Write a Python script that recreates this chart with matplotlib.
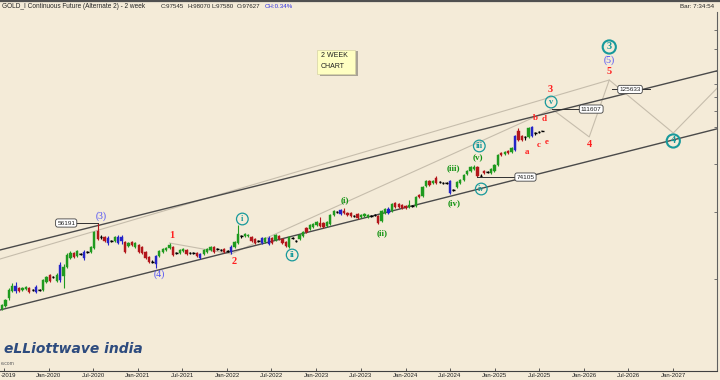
import matplotlib
matplotlib.use("Agg")
import matplotlib.pyplot as plt
import matplotlib.dates as mdates
from matplotlib.patches import Rectangle
from matplotlib.lines import Line2D
import numpy as np
import pandas as pd

# ---- 2 week bars, GOLD_I continuous future (INR) ----
opens = [33470, 34080, 35760, 37300, 38450, 37990, 37530, 37760, 37990, 37530,
         37080, 37530, 37530, 39380, 41080, 40590, 39620, 39860, 40830, 43110,
         45500, 46910, 46060, 46620, 47190, 47190, 47190, 48340, 53550, 51650,
         51650, 49810, 50410, 50410, 51650, 50410, 50110, 48930, 50110, 48630,
         49220, 48630, 47190, 45780, 44420, 43890, 46060, 47190, 47760, 48340,
         48630, 46910, 46910, 47480, 47760, 46910, 46910, 46910, 45500, 46620,
         47190, 47760, 48630, 48050, 47760, 48050, 47480, 47190, 48630, 49810,
         51960, 51960, 51960, 51650, 51030, 50410, 49810, 50110, 51340, 51340,
         50720, 51960, 51030, 50110, 48630, 51340, 50410, 51030, 51960, 54520,
         54200, 54850, 55520, 56190, 56190, 55190, 55850, 58970, 60040, 59330,
         60400, 59680, 59680, 58620, 59330, 58270, 58620, 58270, 58620, 58970,
         58620, 56870, 59680, 61140, 60400, 63390, 63010, 62630, 62250, 61880,
         62250, 62250, 66510, 66110, 70220, 72370, 71510, 73690, 71940, 71510,
         71510, 72370, 68550, 69800, 71510, 72810, 75480, 76860, 77790, 78730,
         74580, 76860, 76400, 75940, 76860, 79690, 85670, 85160, 86710, 86190,
         87230, 97800, 94900, 94350, 94350, 100200, 96600, 97200, 97627]
highs = [34490, 35550, 37990, 39150, 39380, 38220, 38220, 38450, 38220, 37760,
         38680, 37760, 40100, 40830, 41320, 40830, 41570, 44420, 43890, 46910,
         47480, 47190, 47760, 46910, 47760, 47480, 48930, 53550, 56191, 52270,
         51960, 51960, 50720, 51960, 52270, 52270, 50410, 50110, 50410, 50110,
         49520, 48930, 47480, 46060, 44960, 46340, 47760, 48340, 48630, 49810,
         48930, 47190, 48050, 48340, 48050, 47190, 47190, 47190, 46910, 48050,
         48340, 48930, 48930, 48340, 48050, 48340, 47760, 49220, 50410, 55520,
         52270, 52910, 52590, 51960, 51340, 50720, 51650, 51650, 51960, 51650,
         52590, 52270, 51340, 50410, 51960, 51650, 50720, 52590, 53550, 54850,
         55850, 56190, 56870, 58270, 56530, 56870, 59330, 60770, 60400, 61140,
         61510, 60040, 60040, 58970, 59680, 59330, 59680, 59330, 58970, 59330,
         58970, 60770, 61510, 61880, 63390, 63770, 63390, 63010, 62630, 64540,
         62630, 66110, 66910, 70220, 72810, 72810, 72810, 74580, 72370, 71940,
         71940, 72810, 68960, 72370, 73250, 75480, 77330, 79210, 79690, 79210,
         75480, 77330, 76860, 78260, 80170, 85160, 86190, 86710, 87230, 88830,
         95480, 99600, 95480, 94900, 100200, 100800, 97200, 97800, 98070]
lows = [33270, 33870, 35330, 37080, 36860, 37080, 37300, 37530, 36860, 37300,
        36860, 37300, 37300, 39150, 39380, 40340, 39380, 39380, 37990, 42850,
        45230, 45500, 45780, 46340, 44960, 46910, 46910, 48050, 50720, 51030,
        50110, 49220, 50110, 50110, 49520, 49520, 46910, 48630, 48930, 48340,
        46910, 46620, 45230, 44160, 44160, 42850, 45780, 46910, 47480, 48050,
        46060, 46620, 46620, 47190, 46340, 46620, 46620, 45780, 45230, 46340,
        46910, 47480, 46910, 47760, 47480, 46910, 47190, 46620, 48340, 49520,
        51340, 51650, 51650, 50110, 49520, 50110, 49520, 49810, 49220, 49520,
        50410, 50720, 49520, 48630, 48340, 51030, 50110, 50720, 51650, 52910,
        53870, 54520, 55190, 54850, 54520, 54850, 55520, 58620, 59680, 58970,
        59330, 58620, 58270, 58270, 57560, 57920, 58270, 57920, 58270, 58620,
        55850, 56530, 59330, 59330, 60040, 61510, 61510, 61140, 61140, 61510,
        61880, 61880, 65320, 65710, 69800, 70220, 71080, 71080, 71510, 71080,
        71080, 66910, 68140, 69380, 71080, 72370, 75030, 76400, 77330, 74105,
        74400, 75480, 75940, 75480, 76400, 79210, 84130, 84640, 85160, 85670,
        86710, 92100, 92100, 92640, 93800, 94350, 95480, 96600, 97580]
closes = [34280, 35330, 37530, 38450, 37300, 37300, 37990, 38220, 37080, 37530,
          38220, 37500, 39860, 40590, 39620, 40590, 41080, 43630, 43110, 46340,
          46910, 45780, 47480, 46620, 45500, 47190, 48630, 53230, 51030, 51650,
          50410, 51340, 50410, 51650, 49810, 51650, 47190, 49810, 49220, 49810,
          47190, 46910, 45500, 44420, 44400, 46060, 47480, 48050, 48340, 49220,
          46340, 46910, 47760, 48050, 46620, 46910, 46900, 46060, 46620, 47760,
          48050, 48630, 47190, 48050, 47760, 47190, 47480, 48630, 50110, 52590,
          51960, 52590, 52270, 50410, 49810, 50410, 51340, 51340, 49520, 49810,
          52270, 51030, 49810, 48930, 51650, 51340, 50410, 52270, 53230, 53230,
          55520, 55850, 56530, 55190, 54850, 56530, 58970, 60400, 60040, 60770,
          59680, 58970, 58620, 58620, 57920, 58970, 59330, 58970, 58620, 58970,
          56190, 60400, 61140, 59680, 63010, 61880, 61880, 61510, 61510, 62630,
          62250, 65710, 65710, 69800, 72370, 70640, 72370, 71510, 71940, 71510,
          71500, 67320, 68550, 71940, 72810, 75030, 76860, 78730, 78730, 74580,
          74580, 75940, 76400, 77790, 79690, 84640, 84640, 86190, 85670, 88290,
          94900, 92640, 92640, 94350, 99600, 94900, 96500, 97200, 97545]
# bars the software paints blue
blue_bars = [4, 10, 17, 24, 31, 34, 35, 45, 58, 67, 76, 78, 99, 113, 131, 150, 155]
bar_dates = pd.date_range("2019-06-24", periods=len(closes), freq="14D")

# ---- analysis lines (date, price) ----
upper_channel = (["2019-06-16", "2027-07-12"], [47760, 141200])
lower_channel = (["2019-06-16", "2027-07-12"], [33270, 99560])
light_upper = (["2019-06-16", "2026-04-14"], [45230, 132970])
light_2_to_v = (["2022-01-17", "2025-08-23"], [46620, 111607])
light_1_to_2 = (["2021-05-10", "2022-01-17"], [49810, 46620])
proj_dates = ["2025-08-23", "2026-01-22", "2026-04-14", "2027-01-01", "2027-07-12"]
proj_prices = [111607, 94370, 132970, 96630, 128990]

# text, level, line from, line to, label date
price_tags = [
    ("56191", 56191, "2020-03-13", "2020-07-20", "2020-03-13"),
    ("111607", 111607, "2025-08-23", "2026-01-30", "2026-01-30"),
    ("74105", 74105, "2024-10-21", "2025-05-06", "2025-05-06"),
    ("125633", 125633, "2026-04-26", "2026-09-28", "2026-07-08"),
]

wave_labels = [
    ("(3)", "2020-08-04", 58620, "blue"),
    ("(4)", "2021-03-28", 41320, "blue"),
    ("1", "2021-05-21", 51960, "red"),
    ("2", "2022-01-30", 44690, "red"),
    ("i", "2022-03-04", 57560, "circle"),
    ("ii", "2022-09-24", 46340, "circle"),
    ("(i)", "2023-04-28", 64540, "green"),
    ("(ii)", "2023-09-27", 52910, "green"),
    ("(iii)", "2024-07-14", 78260, "green"),
    ("(iv)", "2024-07-18", 63390, "green"),
    ("iii", "2024-10-29", 89360, "circle"),
    ("(v)", "2024-10-25", 83130, "green"),
    ("iv", "2024-11-06", 68960, "circle"),
    ("v", "2025-08-19", 116460, "circle"),
    ("3", "2025-08-15", 125230, "red"),
    ("a", "2025-05-14", 86190, "abc"),
    ("b", "2025-06-15", 105790, "abc"),
    ("c", "2025-06-28", 89900, "abc"),
    ("d", "2025-07-21", 105150, "abc"),
    ("e", "2025-07-30", 91550, "abc"),
    ("4", "2026-01-22", 89900, "red"),
    ("5", "2026-04-14", 139550, "red"),
    ("(5)", "2026-04-14", 150010, "blue"),
    ("3", "2026-04-14", 162240, "circle_big"),
    ("4", "2027-01-01", 92100, "circle_big"),
]

header = [("C:97545", 161), ("H:98070", 187), ("L:97580", 212), ("O:97627", 237)]

bg = "#F4EBD8"
green = "#1f9a1f"
red = "#b3161b"
blue = "#2424c8"
teal = "#17999b"
serif = "Liberation Serif"
sans = "Liberation Sans"

W, H = 720, 380


def fx(px):
    return px / W


def fy(py):
    return 1 - py / H


fig = plt.figure(figsize=(7.2, 3.8), dpi=100, facecolor=bg)
ax = fig.add_axes([0, fy(370.5), fx(717), (370.5 - 12) / H])
ax.set_facecolor(bg)
ax.set_yscale("log")
ax.set_ylim(23110, 200290)
ax.set_xlim(mdates.date2num(pd.Timestamp("2019-06-16")),
            mdates.date2num(pd.Timestamp("2027-06-29")))

# ---- candles ----
o = np.array(opens, float)
h = np.array(highs, float)
l = np.array(lows, float)
c = np.array(closes, float)
x = mdates.date2num(bar_dates)
doji = np.abs(c - o) / o < 0.002
cols = np.where(c >= o, green, red).astype(object)
cols[doji] = "black"
cols[blue_bars] = blue
cols = list(cols)

ax.vlines(x, l, h, colors=cols, lw=0.8, zorder=3)
lo = np.minimum(o, c)
hi = np.maximum(o, c)
ax.bar(x, hi - lo, bottom=lo, width=9.5, color=cols, edgecolor=cols, lw=0.3, zorder=4)
ax.hlines(c[doji], x[doji] - 5, x[doji] + 5, colors=np.array(cols, object)[doji], lw=1.0, zorder=4)


def dline(pts, **kw):
    d, p = pts
    ax.plot(mdates.date2num(pd.to_datetime(d)), p, **kw)


dark = dict(color="#4a4a4a", lw=1.0, zorder=2)
light = dict(color="#c6bdac", lw=0.8, zorder=1)
dline(upper_channel, **dark)
dline(lower_channel, **dark)
dline(light_upper, **light)
dline(light_2_to_v, **light)
dline(light_1_to_2, **light)
dline((proj_dates, proj_prices), **light)

for txt, lvl, d0, d1, dl in price_tags:
    ax.plot(mdates.date2num(pd.to_datetime([d0, d1])), [lvl, lvl], color="#303030", lw=0.7, zorder=5)
    ax.text(mdates.date2num(pd.Timestamp(dl)), lvl, txt, fontsize=4.6, family=sans,
            ha="center", va="center", color="#202020", zorder=6,
            bbox=dict(boxstyle="round,pad=0.25,rounding_size=0.35", fc="white", ec="#404040", lw=0.6))

styles = {
    "red": dict(color="#ff1f1f", fontsize=7.5, family=serif, weight="bold"),
    "abc": dict(color="#ff1f1f", fontsize=6.5, family=serif, weight="bold"),
    "blue": dict(color="#4d4df5", fontsize=7, family=serif),
    "green": dict(color="#139313", fontsize=6.5, family=serif, weight="bold"),
    "circle": dict(color=teal, fontsize=6, family=serif, weight="bold",
                   bbox=dict(boxstyle="circle,pad=0.22", fc="none", ec=teal, lw=0.9)),
    "circle_big": dict(color=teal, fontsize=7.5, family=serif, weight="bold",
                       bbox=dict(boxstyle="circle,pad=0.2", fc="none", ec=teal, lw=1.5)),
}
for txt, d, p, kind in wave_labels:
    ax.text(mdates.date2num(pd.Timestamp(d)), p, txt, ha="center", va="center",
            zorder=7, **styles[kind])

# ---- axes ----
ticks = pd.date_range("2019-07-01", "2027-01-01", freq="6MS")
tick_labels = [t.strftime("%b-%Y") for t in ticks]
tick_labels[0] = ""  # only "-2019" shows at the left edge
ax.set_xticks(mdates.date2num(ticks))
ax.set_xticklabels(tick_labels, fontsize=4.3, family=sans, color="#202020")
ax.tick_params(axis="x", direction="in", length=2.5, width=0.6, pad=1.5, color="#404040")
fig.text(fx(0.3), fy(375.3), "-2019", fontsize=4.3, family=sans, color="#202020",
         va="center", ha="left")
ax.set_yticks([40000, 60000, 80000, 100000, 110000, 120000, 130000, 140000, 160000, 180000])
ax.yaxis.tick_right()
ax.tick_params(axis="y", which="both", direction="in", length=2.5, width=0.6,
               labelright=False, color="#606060")
ax.yaxis.set_minor_locator(matplotlib.ticker.NullLocator())
for s in ("top", "left"):
    ax.spines[s].set_visible(False)
ax.spines["bottom"].set_color("#404040")
ax.spines["bottom"].set_linewidth(0.8)
ax.spines["right"].set_color("#606060")
ax.spines["right"].set_linewidth(0.8)

# ---- header ----
fig.add_artist(Line2D([0, 1], [fy(0.8), fy(0.8)], color="#505050", lw=1.6, transform=fig.transFigure))
fig.text(fx(2), fy(6.5), "GOLD_I Continuous Future (Alternate 2) - 2 week", fontsize=4.7,
         family=sans, color="#262626", va="center")
for txt, px in header:
    fig.text(fx(px), fy(6.5), txt, fontsize=4.4, family=sans, color="#262626", va="center")
fig.text(fx(265), fy(6.5), "CH:0.34%", fontsize=4.4, family=sans, color="#2f2fe0", va="center")
fig.text(fx(714), fy(6), "Bar: 7:34:54", fontsize=4.5, family=sans, color="#262626",
         va="center", ha="right")

# ---- note box ----
fig.add_artist(Rectangle((fx(320), fy(76)), fx(38), 25 / H, transform=fig.transFigure,
                         fc="#a9a396", ec="none", zorder=8))
fig.add_artist(Rectangle((fx(317), fy(73.5)), fx(38), 24 / H, transform=fig.transFigure,
                         fc="#ffffc2", ec="#d6d3a4", lw=0.5, zorder=9))
fig.text(fx(321), fy(55.5), "2 WEEK", fontsize=5, family=sans, color="#202020", va="center", zorder=10)
fig.text(fx(321), fy(66), "CHART", fontsize=5, family=sans, color="#202020", va="center", zorder=10)

# ---- watermark ----
fig.text(fx(4), fy(349), "eLLiottwave india", fontsize=10, weight="bold", style="italic",
         family="DejaVu Sans", color="#2d4b7e", va="center")
fig.text(fx(0.3), fy(363.5), "e.com", fontsize=3.6, family=sans, color="#606060",
         va="center", ha="left")

fig.savefig("out.png", dpi=100, facecolor=bg)
